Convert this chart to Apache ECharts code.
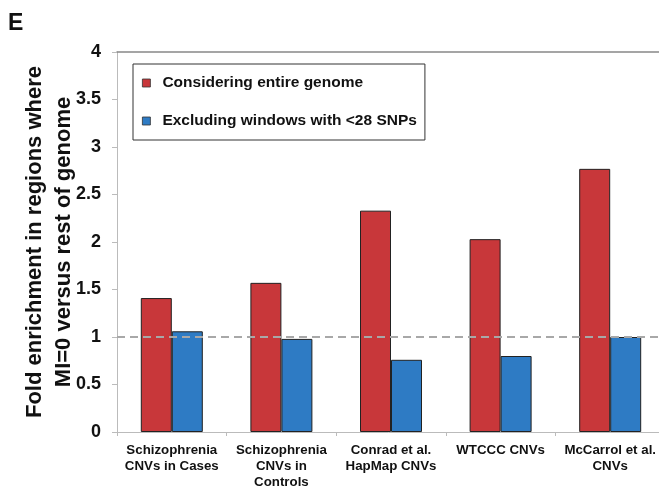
<!DOCTYPE html>
<html>
<head>
<meta charset="utf-8">
<script src="https://cdn.jsdelivr.net/npm/echarts@6/dist/echarts.min.js"></script>
<style>
html,body{margin:0;padding:0;background:#fff;}
#chart{width:659px;height:486px;}
</style>
</head>
<body>
<div id="chart"></div>
<script>
// data
const categories = ["Schizophrenia\nCNVs in Cases", "Schizophrenia\nCNVs in\nControls", "Conrad et al.\nHapMap CNVs", "WTCCC CNVs", "McCarrol et al.\nCNVs"];
const entireGenome = [1.41, 1.57, 2.33, 2.03, 2.77];
const excludingWindows = [1.06, 0.98, 0.76, 0.80, 1.00];
const seriesNames = ["Considering entire genome", "Excluding windows with <28 SNPs"];
const yTicks = [0, 0.5, 1, 1.5, 2, 2.5, 3, 3.5, 4];

const font = '"Liberation Sans", Arial, sans-serif';
let myChart = echarts.init(document.getElementById("chart"));
myChart.setOption({
    animation: false,
    graphic: [{
        type: "text", left: 8, top: 12,
        style: {text: "E", font: "bold 23px " + font, fill: "#111"}
    }],
    grid: {left: 117, top: 52, width: 548, bottom: 54, containLabel: false, outerBoundsMode: "none"},
    legend: {
        data: seriesNames,
        orient: "vertical",
        left: 133, top: 64,
        backgroundColor: "#fff",
        borderColor: "#333",
        borderWidth: 1,
        padding: [11, 8, 11, 9],
        itemGap: 22,
        itemWidth: 8, itemHeight: 8,
        icon: "rect",
        itemStyle: {borderColor: "#333", borderWidth: 0.8},
        textStyle: {fontFamily: font, fontWeight: "bold", fontSize: 15.5, color: "#111", lineHeight: 16, padding: [0, 0, 0, 7]}
    },
    xAxis: [{
        type: "category",
        data: categories,
        axisLine: {lineStyle: {color: "#bbb"}},
        axisTick: {show: true, length: 4, lineStyle: {color: "#bbb"}},
        axisLabel: {fontFamily: font, fontWeight: "bold", fontSize: 13.3, color: "#111", lineHeight: 16, margin: 10, interval: 0}
    }, {
        type: "category",
        data: categories,
        position: "top",
        axisLine: {lineStyle: {color: "#888", width: 1.5}},
        axisTick: {show: false},
        axisLabel: {show: false}
    }],
    yAxis: {
        type: "value",
        min: yTicks[0], max: yTicks[yTicks.length - 1], interval: 0.5,
        name: "Fold enrichment in regions where\nMI=0 versus rest of genome",
        nameLocation: "middle",
        nameGap: 39,
        nameMoveOverlap: false,
        nameTextStyle: {fontFamily: font, fontWeight: "bold", fontSize: 22, color: "#111", lineHeight: 29},
        axisLine: {show: true, lineStyle: {color: "#bbb"}},
        axisTick: {show: true, inside: false, length: 5, lineStyle: {color: "#bbb"}},
        splitLine: {show: false},
        axisLabel: {fontFamily: font, fontWeight: "bold", fontSize: 18, color: "#111", margin: 16,
            formatter: v => String(v)}
    },
    series: [{
        name: seriesNames[0],
        type: "bar",
        data: entireGenome,
        barWidth: 31,
        barGap: "0%",
        itemStyle: {color: "#C8373A", borderColor: "#222", borderWidth: 1},
        markLine: {
            silent: true,
            symbol: "none",
            z: 10,
            label: {show: false},
            lineStyle: {color: "#a8a8a8", type: [8, 5], width: 2},
            data: [{yAxis: 1}]
        }
    }, {
        name: seriesNames[1],
        type: "bar",
        data: excludingWindows,
        barWidth: 31,
        itemStyle: {color: "#2E7BC4", borderColor: "#222", borderWidth: 1}
    }]
});
</script>
</body>
</html>
